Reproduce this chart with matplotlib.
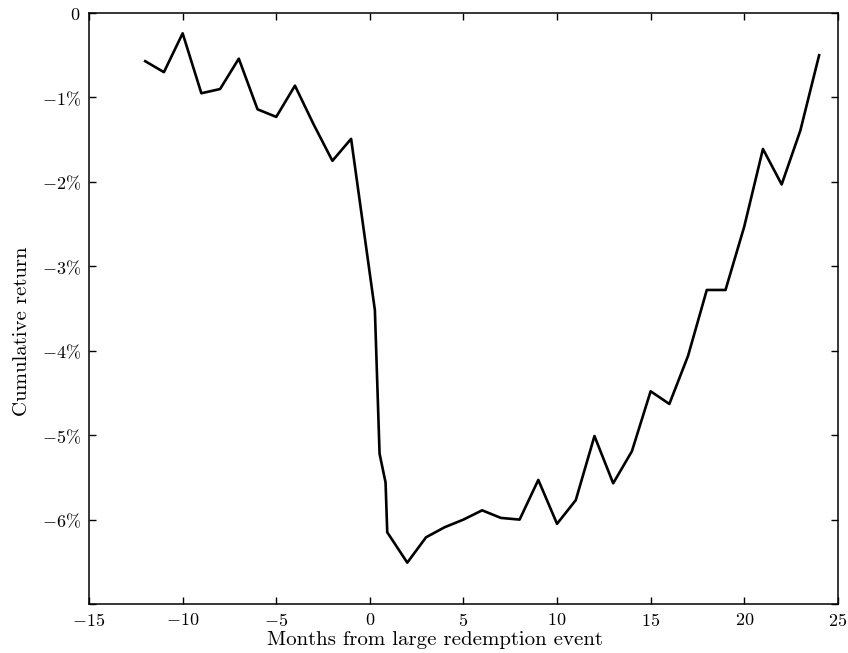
import numpy as np
import matplotlib
matplotlib.use('Agg')
from matplotlib import pyplot as plt


# months relative to the redemption event (finer steps right after it)
months = [-12, -11, -10, -9, -8, -7, -6, -5, -4, -3, -2, -1,
          0.27, 0.52, 0.84, 0.93, 2, 3, 4, 5, 6, 7, 8, 9, 10,
          11, 12, 13, 14, 15, 16, 17, 18, 19, 20, 21, 22, 23, 24]
# cumulative return, in percent
cum_return = [-0.57, -0.70, -0.24, -0.95, -0.90, -0.54, -1.14, -1.23, -0.86, -1.32, -1.75, -1.49,
              -3.52, -5.22, -5.56, -6.15, -6.51, -6.21, -6.09, -6.00, -5.89, -5.98, -6.00, -5.53, -6.05,
              -5.77, -5.01, -5.57, -5.19, -4.48, -4.63, -4.06, -3.28, -3.28, -2.53, -1.61, -2.03, -1.39, -0.50]

x_ticks = [-15, -10, -5, 0, 5, 10, 15, 20, 25]
y_ticks = [0, -1, -2, -3, -4, -5, -6, -7]
y_tick_labels = ['$0$', r'$-1\%$', r'$-2\%$', r'$-3\%$', r'$-4\%$', r'$-5\%$', r'$-6\%$', '']

plt.rcParams['mathtext.fontset'] = 'cm'
plt.rcParams['font.family'] = ['cmr10', 'DejaVu Serif']
plt.rcParams['axes.unicode_minus'] = False

fig = plt.figure(figsize=(8.48, 6.53), dpi=100)
ax = fig.add_axes([0.105, 0.075, 0.883, 0.905])

ax.plot(months, cum_return, color='black', linewidth=1.9)

ax.set_xlim(-15, 25)
ax.set_ylim(-7, 0)
ax.set_xticks(x_ticks)
ax.set_xticklabels(['$%d$' % t for t in x_ticks])
ax.set_yticks(y_ticks)
ax.set_yticklabels(y_tick_labels)

ax.tick_params(direction='in', length=5, width=1.0, top=True, right=True,
               labelsize=13, pad=6)
for s in ax.spines.values():
    s.set_linewidth(1.1)

ax.set_xlabel('Months from large redemption event', fontsize=15)
ax.set_ylabel('Cumulative return', fontsize=15)
# the labels sit a little off-centre in the original
ax.xaxis.set_label_coords(0.462, -0.046, transform=ax.transAxes)
ax.yaxis.set_label_coords(-0.078, 0.461, transform=ax.transAxes)

fig.savefig('out.png', dpi=100)
